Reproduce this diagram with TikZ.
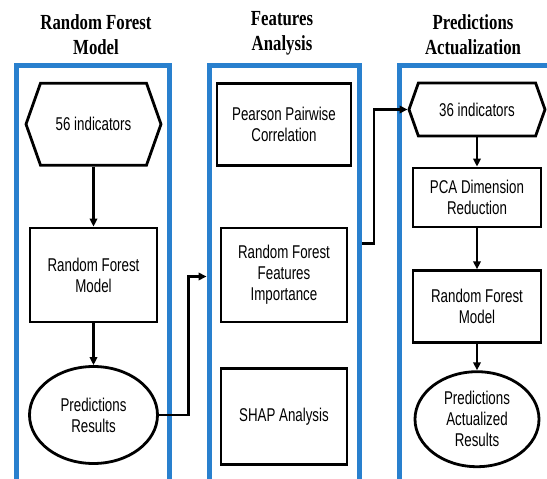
\documentclass[tikz,border=0pt]{standalone}
\usepackage{fontspec}
\newfontfamily\titlefont{Liberation Serif}[FakeStretch=0.78]
\newfontfamily\boxfont{Liberation Sans}[FakeStretch=0.72]
\usetikzlibrary{arrows.meta, shapes.geometric, shapes.symbols}
\definecolor{frameblue}{RGB}{41,128,206}

\begin{document}
\begin{tikzpicture}[x=1pt, y=-1pt,
  frame/.style={draw=frameblue, line width=5pt, anchor=north west, minimum height=480pt},
  box/.style={draw, line width=2.8pt, align=center, inner sep=2pt,
    font=\boxfont\fontsize{18.5}{21}\selectfont},
  hexbox/.style={box, shape=signal, signal to=east and west, signal pointer angle=141},
  ovalbox/.style={box, ellipse},
  heading/.style={align=center, font=\titlefont\bfseries\fontsize{21.5}{25}\selectfont},
  flow/.style={line width=2.5pt, -{Triangle[length=8pt,width=7.5pt]}}]
\useasboundingbox (0,0) rectangle (547,479);
\clip (0,0) rectangle (547,479);
% Draw headings
\node[heading] (title-left) at (96,35) {Random Forest\\Model};
\node[heading] (title-mid) at (282,33) {Features\\Analysis};
\node[heading] (title-right) at (473,35) {Predictions\\Actualization};
% Draw blue frames
\node[frame, minimum width=153pt] (frame-left) at (13.5,63.3) {};
\node[frame, minimum width=150.5pt] (frame-mid) at (206.5,63.3) {};
\node[frame, minimum width=200pt] (frame-right) at (396.5,63.3) {};
% Draw first column
\node[hexbox, minimum width=135pt, minimum height=82pt] (indicators56) at (93.5,124.2) {56 indicators};
\node[box, minimum width=127pt, minimum height=94pt] (forest1) at (93.5,275) {Random Forest\\Model};
\node[ovalbox, minimum width=128pt, minimum height=97pt] (results1) at (93.5,415) {Predictions\\Results};
\draw[flow] (indicators56.south) -- (forest1.north);
\draw[flow] (forest1.south) -- (results1.north);
% Draw second column
\node[box, minimum width=134pt, minimum height=82pt] (pearson) at (284,124.2) {Pearson Pairwise\\Correlation};
\node[box, minimum width=126pt, minimum height=94pt] (importance) at (284,275) {Random Forest\\Features\\Importance};
\node[box, minimum width=126pt, minimum height=96pt] (shap) at (284,416.3) {SHAP Analysis};
% Draw third column
\node[hexbox, minimum width=136pt, minimum height=53pt] (indicators36) at (477,109.5) {36 indicators};
\node[box, minimum width=128pt, minimum height=59pt] (pca) at (477,197.5) {PCA Dimension\\Reduction};
\node[box, minimum width=128pt, minimum height=72pt] (forest2) at (477,306.7) {Random Forest\\Model};
\node[ovalbox, minimum width=124pt, minimum height=95pt] (results2) at (477,419.2) {Predictions\\Actualized\\Results};
\draw[flow] (indicators36.south) -- (pca.north);
\draw[flow] (pca.south) -- (forest2.north);
\draw[flow] (forest2.south) -- (results2.north);
% Draw links between frames
\draw[flow] (results1.east) -- ++(29.5,0) |- (frame-mid.west |- 0,276.5);
\draw[flow] (frame-mid.east |- 0,243.5) -- ++(12,0) |- (indicators36.west);
\end{tikzpicture}
\end{document}
